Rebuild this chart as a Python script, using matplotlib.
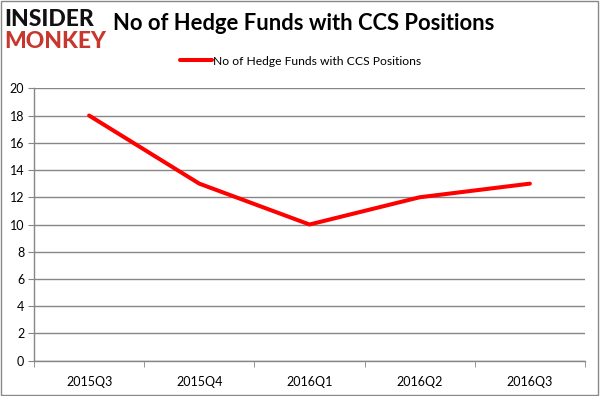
import matplotlib
matplotlib.use('Agg')
import matplotlib.pyplot as plt
from matplotlib.patches import Rectangle

quarters = ['2015Q3', '2015Q4', '2016Q1', '2016Q2', '2016Q3']
funds = [18, 13, 10, 12, 13]
yticks = list(range(0, 21, 2))
series_name = 'No of Hedge Funds with CCS Positions'

plt.rcParams['font.family'] = ['Lato', 'DejaVu Sans']

fig = plt.figure(figsize=(6, 3.96), dpi=100)
ax = fig.add_axes([34 / 600, 1 - 360.7 / 396, 551 / 600, 272.4 / 396])

x = range(len(quarters))
ax.plot(x, funds, color='#ff0000', linewidth=2.9, solid_capstyle='round',
        label=series_name)

ax.set_xlim(-0.5, len(quarters) - 0.5)
ax.set_ylim(0, 20)
ax.set_yticks(yticks)
ax.set_xticks(list(x))
ax.set_xticklabels(quarters)
ax.set_xticks([i + 0.5 for i in range(-1, len(quarters))], minor=True)

grid_col = '#868686'
ax.grid(axis='y', color=grid_col, linewidth=1)
ax.set_axisbelow(True)
for s in ['top', 'right']:
    ax.spines[s].set_visible(False)
for s in ['left', 'bottom']:
    ax.spines[s].set_color(grid_col)
    ax.spines[s].set_linewidth(1)
ax.tick_params(axis='x', which='major', length=0, pad=11, labelsize=9)
ax.tick_params(axis='x', which='minor', length=4, color=grid_col)
ax.tick_params(axis='y', length=4, color=grid_col, labelsize=9, pad=3)

leg = ax.legend(loc='lower center', bbox_to_anchor=(0.484, 1.04), frameon=False,
                fontsize=8.7, handlelength=2.6, handletextpad=0.1)

fig.text(113 / 600, 1 - 23 / 396, series_name, fontsize=15.8, fontweight='bold',
         va='center', ha='left')

# logo
fig.text(4 / 600, 1 - 20 / 396, 'INSIDER', fontsize=16.5, fontweight='black',
         color='#111111', va='center', ha='left')
fig.text(4 / 600, 1 - 41 / 396, 'MONKEY', fontsize=16.5, fontweight='black',
         color='#c8372d', va='center', ha='left')

fig.patches.append(Rectangle((0.002, 0.003), 0.995, 0.994, transform=fig.transFigure,
                             fill=False, edgecolor='#888888', linewidth=1))

fig.savefig('out.png', dpi=100)
